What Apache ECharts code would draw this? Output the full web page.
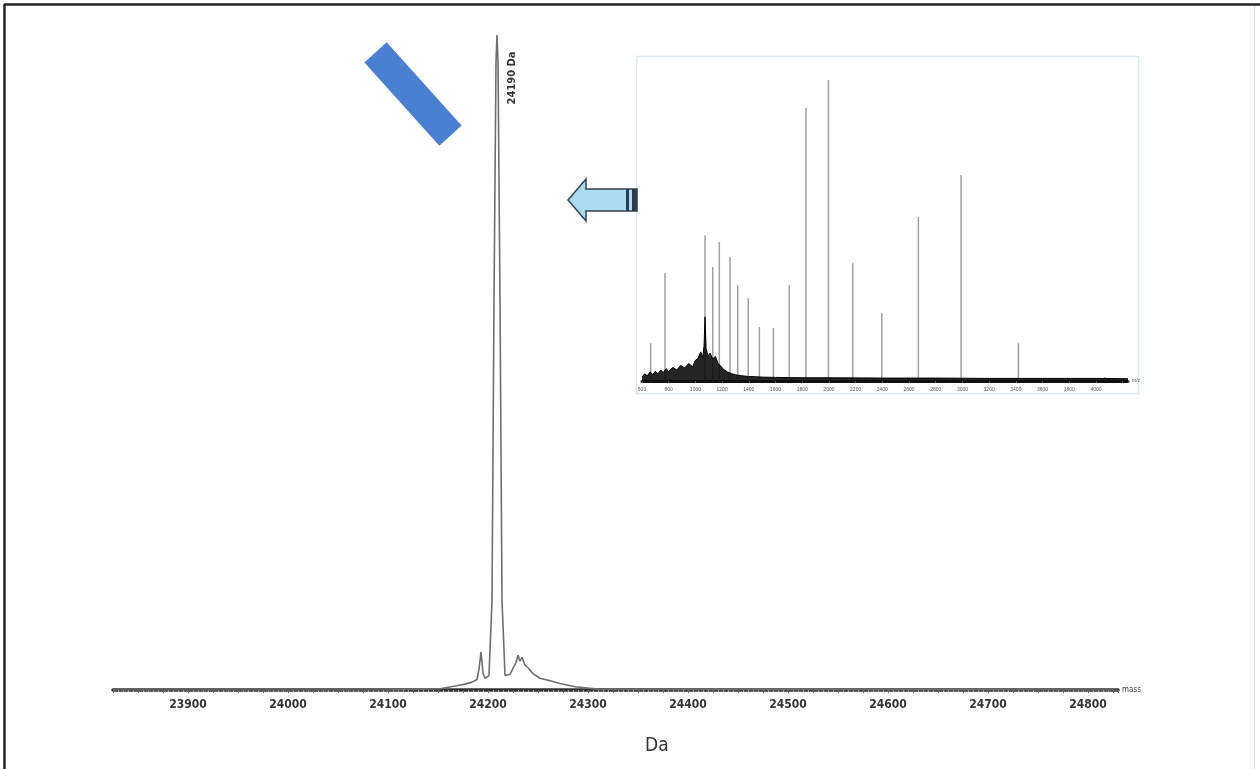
<!DOCTYPE html>
<html>
<head>
<meta charset="utf-8">
<title>mass spectrum</title>
<script src="https://cdn.jsdelivr.net/npm/echarts@6/dist/echarts.min.js"></script>
<style>
html, body { margin: 0; padding: 0; background: #fff; }
#main { width: 1260px; height: 769px; }
</style>
</head>
<body>
<div id="main"></div>
<script>
// 主图: 去卷积质量谱 (Da, 相对强度)
var massDa = [23825, 24100, 24152, 24167, 24177, 24184, 24189, 24191, 24193, 24195, 24197, 24201, 24204, 24206, 24208, 24209, 24210, 24212, 24214, 24217, 24222, 24226, 24228, 24230, 24232, 24234, 24237, 24240, 24245, 24252, 24262, 24272, 24287, 24312, 24830];
var intensity = [0, 0, 0.2, 0.6, 0.9, 1.2, 1.6, 3.2, 5.8, 2.6, 1.8, 2.2, 13.7, 59.5, 96, 100, 96, 59.5, 13.7, 2.2, 2.4, 3.6, 4.2, 5.3, 4.4, 5.0, 3.8, 3.4, 2.5, 1.8, 1.4, 1.0, 0.5, 0.1, 0];
var peakLabel = '24190 Da';

// 插图: m/z 谱
var mzPeaks = [665, 772, 1072, 1130, 1179, 1259, 1317, 1396, 1479, 1584, 1703, 1828, 1996, 2178, 2396, 2670, 2990, 3419, 4068];
var mzHeights = [11.7, 33.3, 45, 35.2, 42.9, 38.3, 29.6, 25.6, 16.7, 16.4, 29.6, 84.3, 92.9, 36.4, 21.0, 50.6, 63.6, 11.7, 1.2];
var noiseMz = [600, 620, 640, 660, 680, 700, 720, 740, 760, 780, 800, 830, 860, 890, 920, 950, 980, 1000, 1020, 1040, 1055, 1065, 1072, 1080, 1095, 1110, 1130, 1150, 1170, 1190, 1210, 1240, 1270, 1300, 1350, 1400, 1500, 1600, 1800, 2000, 2400, 2800, 3200, 3600, 4000, 4240];
var noiseVal = [1.2, 2.2, 1.6, 2.8, 2.0, 3.0, 2.2, 3.4, 2.6, 3.8, 3.0, 4.2, 3.4, 4.8, 4.0, 5.4, 4.4, 6.4, 7.0, 9.0, 7.2, 11, 19.8, 10, 7.8, 8.6, 6.8, 7.6, 5.4, 4.6, 3.6, 2.8, 2.3, 1.9, 1.6, 1.4, 1.2, 1.1, 1.0, 1.0, 0.9, 0.9, 0.8, 0.8, 0.8, 0.7];
var mzTickMax = 4000;

var sansFont = '"DejaVu Sans Condensed", "Liberation Sans", sans-serif';

function zip(a, b){
	var out = [];
	for (var i = 0; i < a.length; i++) {
		out.push([a[i], b[i]]);
	}
	return out;
}

var myChart = echarts.init(document.getElementById('main'));
var option = {
	backgroundColor: '#fff',
	animation: false,
	title: {
		text: 'Da',
		left: 640,
		top: 732,
		textStyle: {
			fontFamily: sansFont,
			fontSize: 19,
			fontWeight: 'normal',
			color: '#333'
		}
	},
	grid: [{
		left: 113,
		right: 142,
		top: 35,
		bottom: 79
	}, {
		left: 642,
		right: 132,
		top: 57,
		bottom: 388
	}],
	xAxis: [{
		type: 'value',
		gridIndex: 0,
		min: 23825,
		max: 24830,
		interval: 25,
		name: 'mass',
		nameLocation: 'end',
		nameGap: 4,
		nameTextStyle: { fontSize: 8, color: '#444', verticalAlign: 'middle', fontFamily: sansFont },
		splitLine: { show: false },
		axisLine: { lineStyle: { color: '#333', width: 3.5 } },
		axisTick: { show: true, length: 3, lineStyle: { color: '#666' } },
		minorTick: { show: true, splitNumber: 5, length: 2, lineStyle: { color: '#aaa' } },
		axisLabel: {
			margin: 9,
			fontSize: 12,
			fontFamily: sansFont,
			fontWeight: 'bold',
			color: '#333',
			showMinLabel: false,
			showMaxLabel: false,
			formatter: function(v){
				return v % 100 === 0 ? String(v) : '';
			}
		}
	}, {
		type: 'value',
		gridIndex: 1,
		min: 600,
		max: 4240,
		interval: 200,
		name: 'm/z',
		nameLocation: 'end',
		nameGap: 4,
		nameTextStyle: { fontSize: 5, color: '#555', verticalAlign: 'middle' },
		splitLine: { show: false },
		axisLine: { lineStyle: { color: '#111', width: 3 } },
		axisTick: { show: true, length: 2, lineStyle: { color: '#555' } },
		axisLabel: {
			margin: 6,
			fontSize: 5,
			color: '#555',
			formatter: function(v){
				return v <= mzTickMax ? String(v) : '';
			}
		}
	}],
	yAxis: [{
		type: 'value',
		gridIndex: 0,
		min: 0,
		max: 100,
		show: false
	}, {
		type: 'value',
		gridIndex: 1,
		min: 0,
		max: 100,
		show: false
	}],
	series: [{
		name: 'mass',
		type: 'line',
		xAxisIndex: 0,
		yAxisIndex: 0,
		symbol: 'none',
		data: zip(massDa, intensity),
		lineStyle: { color: '#6e6e6e', width: 1.6 }
	}, {
		name: 'mz noise',
		type: 'line',
		xAxisIndex: 1,
		yAxisIndex: 1,
		symbol: 'none',
		data: zip(noiseMz, noiseVal),
		lineStyle: { color: '#000', width: 1 },
		areaStyle: { color: '#0d0d0d', opacity: 0.9 }
	}, {
		name: 'mz',
		type: 'bar',
		xAxisIndex: 1,
		yAxisIndex: 1,
		barWidth: 1.5,
		data: zip(mzPeaks, mzHeights),
		itemStyle: { color: '#a0a0a0' }
	}],
	graphic: [{
		// 外框
		type: 'line',
		shape: { x1: 4.5, y1: 4, x2: 4.5, y2: 769 },
		style: { stroke: '#222', lineWidth: 2.5 }
	}, {
		type: 'line',
		shape: { x1: 4, y1: 4.5, x2: 1260, y2: 4.5 },
		style: { stroke: '#222', lineWidth: 2.5 }
	}, {
		type: 'line',
		shape: { x1: 1254.5, y1: 6, x2: 1254.5, y2: 769 },
		style: { stroke: '#e2e2e2', lineWidth: 1 }
	}, {
		// 插图边框
		type: 'rect',
		shape: { x: 636.5, y: 56.5, width: 502, height: 337 },
		style: { fill: null, stroke: '#dfe7ee', lineWidth: 1.5 },
		z: -1
	}, {
		// 峰标签
		type: 'text',
		x: 512,
		y: 78,
		rotation: Math.PI / 2,
		style: {
			text: peakLabel,
			align: 'center',
			verticalAlign: 'middle',
			fontSize: 11,
			fontWeight: 'bold',
			fontFamily: sansFont,
			fill: '#333'
		}
	}, {
		// 蓝色矩形
		type: 'rect',
		x: 413,
		y: 94,
		rotation: -48 * Math.PI / 180,
		shape: { x: -56, y: -15, width: 112, height: 30 },
		style: { fill: '#4b7fd0' }
	}, {
		// 箭头
		type: 'polygon',
		shape: {
			points: [[568, 200], [586, 179], [586, 189], [637, 189], [637, 211], [586, 211], [586, 221]]
		},
		style: { fill: '#a8dcf0', stroke: '#34424f', lineWidth: 1.5 }
	}, {
		type: 'rect',
		shape: { x: 626, y: 189, width: 3, height: 22 },
		style: { fill: '#2d3b4c' }
	}, {
		type: 'rect',
		shape: { x: 632, y: 189, width: 5, height: 22 },
		style: { fill: '#2d3b4c' }
	}]
};
myChart.setOption(option);
</script>
</body>
</html>
